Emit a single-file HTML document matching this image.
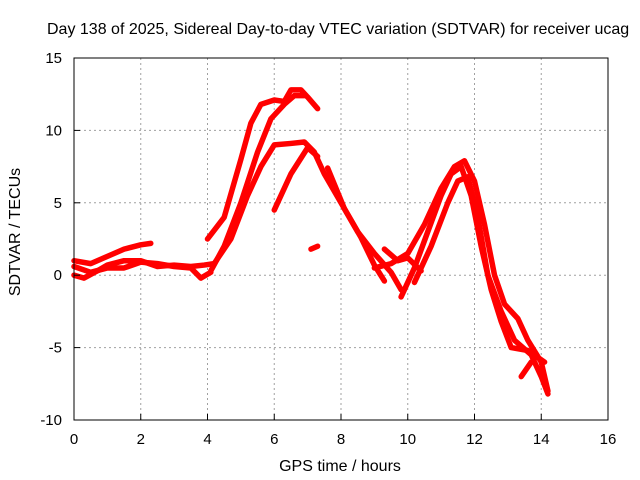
<!DOCTYPE html>
<html><head><meta charset="utf-8"><style>
body{margin:0;background:#fff}
svg{display:block;font-family:"Liberation Sans",sans-serif}
</style></head><body>
<svg id="chart" width="640" height="480" viewBox="0 0 640 480" xmlns="http://www.w3.org/2000/svg">
<rect width="640" height="480" fill="#fff"/>
<text x="47" y="34" font-size="16" fill="#000">Day 138 of 2025, Sidereal Day-to-day VTEC variation (SDTVAR) for receiver ucag</text>
<g id="grid"></g>
<g id="series"></g>
<rect x="74" y="58" width="534" height="362" fill="none" stroke="#000" stroke-width="1"/>
<g id="ticks"></g>
<text x="340" y="471" font-size="16" text-anchor="middle">GPS time / hours</text>
<text transform="translate(20,232) rotate(-90)" font-size="16" text-anchor="middle">SDTVAR / TECUs</text>
</svg>
<script>
const xTicks=[0,2,4,6,8,10,12,14,16];
const yTicks=[-10,-5,0,5,10,15];
const traceA=[[4.0,2.5],[4.5,4],[5.0,8],[5.3,10.5],[5.6,11.8],[6.0,12.1],[6.3,12],[6.5,12.8],[6.8,12.8],[7.0,12.3],[7.3,11.5]];
const traceB=[[4.1,0.3],[4.5,2],[5.0,5],[5.5,8.5],[5.9,10.8],[6.3,11.8],[6.6,12.4],[6.9,12.4]];
const traceC=[[4.2,0.8],[4.7,2.5],[5.2,5.5],[5.6,7.5],[6.0,9],[6.5,9.1],[6.9,9.2],[7.2,8.5],[7.5,7.0],[8.0,5],[8.5,3],[9.0,1.5],[9.5,0.2],[9.8,-1.0]];
const traceD=[[6.0,4.5],[6.5,7],[7.0,8.8],[7.3,8.2]];
const traceD2=[[7.6,7.4],[8.1,4.6],[8.6,2.6],[9.0,0.7],[9.3,-0.4]];
const traceBlob=[[7.1,1.8],[7.3,2.0]];
const traceE=[[0,1],[0.5,0.8],[1,1.3],[1.5,1.8],[2,2.1],[2.3,2.2]];
const traceF=[[0,0],[0.3,-0.2],[0.7,0.3],[1.0,0.7],[1.5,1.0],[2.0,1.0],[2.5,0.6],[3.0,0.7],[3.5,0.6],[3.9,0.7],[4.2,0.8]];
const traceG=[[0,0.6],[0.5,0.2],[1,0.5],[1.5,0.5],[2.0,0.9],[2.5,0.8],[3,0.6],[3.5,0.5],[3.8,-0.2],[4.1,0.2]];
const traceH=[[9.0,0.5],[9.5,0.8],[10.0,1.5],[10.5,3.5],[11.0,6],[11.4,7.5],[11.7,7.9],[12.0,6.5],[12.3,3.5],[12.6,0],[12.9,-2],[13.3,-3],[13.6,-4.5],[14.0,-6],[14.2,-8]];
const traceI=[[9.8,-1.5],[10.2,0.5],[10.6,3],[11.0,5.5],[11.3,7.0],[11.6,7.5],[11.9,5.5],[12.2,2],[12.5,-1],[12.8,-3.2],[13.1,-5],[13.6,-5.2],[14.1,-6.0]];
const traceJ=[[10.2,-0.5],[10.7,2],[11.2,5],[11.5,6.5],[11.8,6.8],[12.1,4],[12.4,0],[12.8,-2.5],[13.2,-4.5],[13.7,-5.5],[14.0,-7.0],[14.2,-8.2]];
const traceK=[[9.3,1.8],[9.7,1.0],[10.0,1.2],[10.4,0.3]];
const traceL=[[13.4,-7],[13.7,-6]];
const traces=[traceA,traceB,traceC,traceD,traceD2,traceBlob,traceE,traceF,traceG,traceH,traceI,traceJ,traceK,traceL];

const X0=74,X1=608,Y0=420,Y1=58,xmin=0,xmax=16,ymin=-10,ymax=15;
function sx(t){return X0+(t-xmin)/(xmax-xmin)*(X1-X0);}
function sy(v){return Y0-(v-ymin)/(ymax-ymin)*(Y0-Y1);}
const NS="http://www.w3.org/2000/svg";
const grid=document.getElementById('grid'),ticks=document.getElementById('ticks'),ser=document.getElementById('series');
function mk(tag,attrs,parent){const e=document.createElementNS(NS,tag);for(const k in attrs)e.setAttribute(k,attrs[k]);parent.appendChild(e);return e;}
xTicks.forEach(t=>{
  const x=sx(t);
  if(t>xmin&&t<xmax){const g=mk('line',{x1:x,x2:x,y1:Y1,y2:Y0,stroke:'#a0a0a0','stroke-dasharray':'2,3'},grid);
  
  }
  const l=mk('line',{x1:x,x2:x,y1:Y0,y2:Y0-6,stroke:'#000'},ticks);
  
  
  const tx=mk('text',{x:x,y:444,'font-size':15,'text-anchor':'middle'},ticks);tx.textContent=t;
  
  
});
yTicks.forEach(v=>{
  const y=sy(v);
  if(v>ymin&&v<ymax){const g=mk('line',{x1:X0,x2:X1,y1:y,y2:y,stroke:'#a0a0a0','stroke-dasharray':'2,3'},grid);
  
  }
  const l=mk('line',{x1:X0,x2:X0+6,y1:y,y2:y,stroke:'#000'},ticks);
  
  
  const tx=mk('text',{x:62,y:y+5,'font-size':15,'text-anchor':'end'},ticks);tx.textContent=v;
  
  
});
traces.forEach(tr=>{
  const p=mk('polyline',{points:tr.map(d=>sx(d[0])+','+sy(d[1])).join(' '),fill:'none',stroke:'#ff0000','stroke-width':5.5,'stroke-linejoin':'round','stroke-linecap':'round'},ser);
  
  
});
</script>
</body></html>
